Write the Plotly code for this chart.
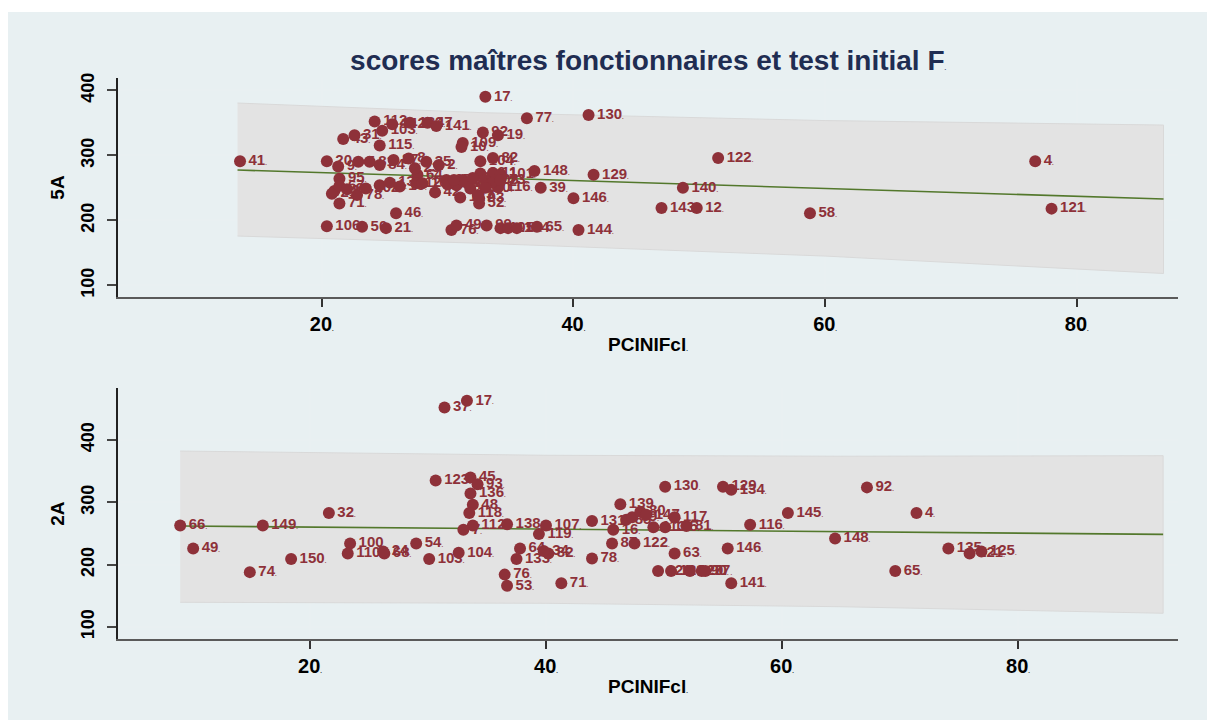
import plotly.graph_objects as go

# ---- top panel: 5A vs PCINIFcl ----
top_x = [13.5, 76.7, 78.0, 58.8, 51.5, 48.7, 47.0, 49.8, 41.2, 33.0, 36.3, 41.6, 36.9, 40.0, 37.4,
         40.4, 37.1, 34.0, 32.8, 34.0, 31.2, 31.1, 33.6, 32.6, 33.6, 32.5, 32.5, 31.0,
         20.4, 24.2, 24.8, 21.7, 22.6, 24.6, 28.4, 29.1, 25.6, 27.0, 21.4, 21.4, 22.8, 25.9,
         20.4, 23.2, 25.1, 27.6, 21.3, 22.9, 23.8, 24.6, 25.7, 26.9, 27.4, 28.3, 29.3,
         21.0, 20.8, 21.4, 24.6, 25.4, 27.5, 29.0, 29.9, 30.7, 31.2, 31.8, 32.6, 32.4, 34.2,
         30.3, 30.7, 33.1, 34.2, 34.8, 35.5, 30.0, 30.5, 31.5, 32.0, 33.0, 33.5, 34.2, 33.0,
         22.0, 23.5, 26.2, 28.0]
top_y = [291, 291, 218, 211, 296, 250, 219, 219, 362, 390, 357, 270, 276, 234, 250,
         185, 190, 251, 335, 331, 319, 313, 296, 291, 273, 234, 226, 235,
         291, 352, 338, 325, 331, 315, 350, 345, 348, 350, 264, 226, 239, 211,
         191, 190, 188, 270, 283, 290, 290, 285, 293, 295, 280, 290, 285,
         245, 241, 253, 254, 258, 257, 243, 262, 254, 262, 249, 272, 239, 271,
         185, 192, 192, 188, 188, 188, 255, 262, 258, 265, 262, 258, 262, 250,
         248, 249, 252, 257]
top_id = ["41", "4", "121", "58", "122", "140", "143", "12", "130", "17", "77", "129", "148", "146", "39",
          "144", "65", "116", "92", "19", "109", "10", "82", "104", "11", "93", "52", "127",
          "20", "112", "103", "43", "31", "115", "47", "141", "142", "132", "95", "71", "78", "46",
          "106", "50", "21", "64", "9", "5", "81", "84", "87", "8", "23", "35", "2",
          "62", "29", "67", "44", "13", "126", "42", "25", "14", "18", "137", "96", "3", "101",
          "76", "49", "99", "105", "117", "114", "56", "57", "26", "27", "108", "72", "73", "30",
          "6", "102", "15", "16"]
top_band_x = [13.3, 33.0, 60.0, 86.9]
top_band_lo = [175.8, 164.5, 145.0, 118.2]
top_band_hi = [380.5, 365.5, 353.5, 346.6]
top_fit = [277.4, 265.5, 249.3, 232.8]

# ---- bottom panel: 2A vs PCINIFcl ----
bot_x = [33.3, 31.4, 30.65, 33.6, 34.2, 33.6, 33.8, 33.5, 33.8, 33.0, 36.7, 40.0, 39.4,
         9.0, 16.0, 21.6, 10.1, 18.4, 14.9, 23.4, 23.2, 26.3, 26.2, 29.0, 30.1, 32.6,
         37.8, 37.5, 40.2, 39.8, 36.5, 36.7, 41.3, 43.9, 46.3, 43.9, 50.1, 55.0, 55.7,
         50.9, 51.9, 45.6, 47.5, 50.9, 55.4, 55.7, 49.5, 50.6, 52.2, 53.2, 53.5, 57.3,
         46.8, 47.3, 48.0, 48.5, 49.1, 45.7, 50.1, 67.2, 71.4, 60.5, 64.5, 74.1, 75.9,
         69.6, 76.9]
bot_y = [463, 452, 335, 340, 329, 314, 296, 283, 263, 256, 265, 263, 249,
         263, 263, 283, 226, 209, 188, 234, 218, 218, 221, 234, 209, 219,
         226, 209, 218, 222, 184, 166, 170, 210, 297, 270, 325, 325, 320,
         276, 262, 234, 234, 218, 226, 170, 190, 190, 190, 190, 190, 264,
         272, 276, 285, 280, 260, 256, 260, 324, 283, 283, 242, 226, 218,
         190, 221]
bot_id = ["17", "37", "123", "45", "93", "136", "48", "118", "112", "7", "138", "107", "119",
          "66", "149", "32", "49", "150", "74", "100", "110", "68", "24", "54", "103", "104",
          "64", "133", "82", "34", "76", "53", "71", "78", "139", "131", "130", "129", "134",
          "117", "81", "87", "122", "63", "146", "141", "126", "128", "120", "90", "77", "116",
          "85", "89", "80", "147", "113", "16", "115", "92", "4", "145", "148", "135", "121",
          "65", "125"]
bot_band_x = [9.0, 40.0, 65.0, 92.3]
bot_band_lo = [139.6, 138.0, 132.5, 122.0]
bot_band_hi = [382.3, 375.5, 374.0, 374.8]
bot_fit = [262.0, 257.0, 253.0, 248.6]

x_ticks = [20, 40, 60, 80]
y_ticks = [100, 200, 300, 400]

MAROON = "#8e3139"
GREEN = "#53782c"
DOT = "<span style='font-size:6px'>.</span>"
FONT = "Liberation Sans, Arial, sans-serif"

fig = go.Figure()

panels = [
    (top_x, top_y, top_id, top_band_x, top_band_lo, top_band_hi, top_fit, "x", "y"),
    (bot_x, bot_y, bot_id, bot_band_x, bot_band_lo, bot_band_hi, bot_fit, "x2", "y2"),
]
for px, py, pid, bx, blo, bhi, bfit, xa, ya in panels:
    fig.add_trace(go.Scatter(
        x=bx + bx[::-1], y=bhi + blo[::-1], xaxis=xa, yaxis=ya,
        mode="lines", fill="toself", fillcolor="#e3e3e3",
        line={"color": "#d9d9d9", "width": 1}, hoverinfo="skip", showlegend=False,
    ))
    fig.add_trace(go.Scatter(
        x=bx, y=bfit, xaxis=xa, yaxis=ya, mode="lines",
        line={"color": GREEN, "width": 1.6}, hoverinfo="skip", showlegend=False,
    ))
    fig.add_trace(go.Scatter(
        x=px, y=py, xaxis=xa, yaxis=ya, mode="markers+text",
        text=[f"{i}{DOT}" for i in pid], textposition="middle right",
        textfont={"family": FONT, "size": 15, "color": MAROON, "weight": "bold"},
        marker={"size": 12, "color": MAROON},
        showlegend=False,
    ))

tick_text = [f"{v}{DOT}" for v in x_ticks]
label_font = {"family": FONT, "size": 19, "color": "black", "weight": "bold"}
xcommon = dict(
    tickvals=x_ticks, ticktext=tick_text, ticks="outside", ticklen=8, tickwidth=1.5,
    tickcolor="#333", showline=True, linecolor="#5a5a5a", linewidth=2,
    showgrid=True, gridcolor="#e9f0f2", gridwidth=1.5, zeroline=False,
    tickfont={"family": FONT, "size": 20, "color": "black", "weight": "bold"},
    title={"text": f"PCINIFcl{DOT}", "standoff": 4, "font": label_font},
)
ycommon = dict(
    tickvals=y_ticks, ticks="outside", ticklen=9, tickwidth=1.5, tickcolor="#444",
    tickangle=-90, showline=True, linecolor="#222", linewidth=1.5,
    showgrid=True, gridcolor="#e9f0f2", gridwidth=1.5, zeroline=False,
    ticklabelstandoff=6,
    tickfont={"family": FONT, "size": 18, "color": "black", "weight": "bold"},
)

fig.update_layout(
    width=1207, height=720,
    margin={"l": 118, "r": 29, "t": 78, "b": 81},
    paper_bgcolor="white", plot_bgcolor="white",
    showlegend=False,
    title={"text": f"scores maîtres fonctionnaires et test initial F{DOT}",
           "x": 0.537, "xanchor": "center", "y": 0.917, "yanchor": "middle",
           "font": {"family": FONT, "size": 28, "color": "#1f2d52", "weight": "bold"}},
    xaxis=dict(xcommon, domain=[0, 1], range=[3.8, 88.05], anchor="y"),
    yaxis=dict(ycommon, domain=[0.6096, 1], range=[82, 419], anchor="x",
               title={"text": "5A", "standoff": 8, "font": label_font}),
    xaxis2=dict(xcommon, domain=[0, 1], range=[3.73, 93.56], anchor="y2"),
    yaxis2=dict(ycommon, domain=[0, 0.4469], range=[80.7, 483], anchor="x2",
                title={"text": "2A", "standoff": 8, "font": label_font}),
    shapes=[{
        "type": "rect", "xref": "paper", "yref": "paper", "layer": "below",
        "x0": -0.1038, "x1": 1.03, "y0": -0.15, "y1": 1.1176,
        "fillcolor": "#e8f0f2", "line": {"width": 0},
    }],
)

fig.write_html("out.html", config={"displayModeBar": False},
               post_script="document.body.style.margin='0';")
